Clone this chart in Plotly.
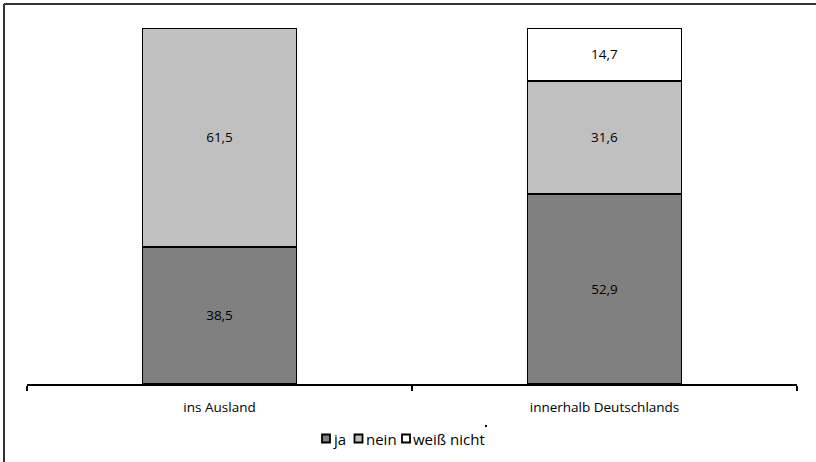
import plotly.graph_objects as go

# Survey result: share of answers per destination (in %)
categories = ["ins Ausland", "innerhalb Deutschlands"]
series_names = ["ja", "nein", "weiß nicht"]
ja_values = [38.5, 52.9]
nein_values = [61.5, 31.6]
weiss_nicht_values = [None, 14.7]

colors = {"ja": "#808080", "nein": "#c0c0c0", "weiß nicht": "#ffffff"}
font_family = "Open Sans, Noto Sans, sans-serif"

fig = go.Figure()
for name, vals in zip(series_names, [ja_values, nein_values, weiss_nicht_values]):
    fig.add_trace(go.Bar(
        x=categories,
        y=vals,
        name=name,
        marker=dict(color=colors[name], line=dict(color="black", width=1.5)),
        text=[("" if v is None else f"{v:.1f}".replace(".", ",")) for v in vals],
        textposition="inside",
        insidetextanchor="middle",
        textfont=dict(color="black", size=13.5, family=font_family),
        showlegend=False,
        cliponaxis=False,
    ))

fig.update_layout(
    barmode="stack",
    barnorm="percent",
    bargap=0.6,
    width=816,
    height=462,
    margin=dict(l=27, r=19, t=28, b=78),
    paper_bgcolor="white",
    plot_bgcolor="white",
    font=dict(family=font_family, size=13, color="black"),
    uniformtext=dict(minsize=13, mode="show"),
    xaxis=dict(
        type="category",
        range=[-0.5, 1.5],
        tickson="boundaries",
        ticks="outside",
        ticklen=5,
        tickwidth=1.5,
        tickcolor="black",
        showline=True,
        linecolor="black",
        linewidth=1.5,
        showgrid=False,
        ticklabelstandoff=10,
        tickfont=dict(size=13.5, family=font_family),
    ),
    yaxis=dict(range=[0, 100], visible=False, showgrid=False),
)

# Legend row with square swatches (pixel positions converted to paper coords)
def px_x(x):
    return (x - 27) / 770


def px_y(y):
    return (384 - y) / 356


legend_y = 438.5
legend_items = [("ja", 322), ("nein", 354.5), ("weiß nicht", 402)]
for name, x0 in legend_items:
    fig.add_shape(
        type="rect", xref="paper", yref="paper",
        x0=px_x(x0), x1=px_x(x0 + 8),
        y0=px_y(legend_y + 4), y1=px_y(legend_y - 4),
        fillcolor=colors[name], line=dict(color="black", width=1.8),
    )
    fig.add_annotation(
        xref="paper", yref="paper",
        x=px_x(x0 + 9), y=px_y(legend_y),
        text=name, showarrow=False, xanchor="left", yanchor="middle",
        font=dict(size=15, family=font_family, color="black"),
    )

# Small dot beside the legend
fig.add_shape(
    type="rect", xref="paper", yref="paper",
    x0=px_x(485), x1=px_x(487),
    y0=px_y(427), y1=px_y(425),
    fillcolor="black", line=dict(width=0),
)

# Frame lines along the top and left edge
fig.add_shape(type="line", xref="paper", yref="paper",
              x0=px_x(4), x1=px_x(816), y0=px_y(4), y1=px_y(4),
              line=dict(color="#333333", width=2))
fig.add_shape(type="line", xref="paper", yref="paper",
              x0=px_x(4), x1=px_x(4), y0=px_y(4), y1=px_y(462),
              line=dict(color="#333333", width=2))

fig.write_html("out.html")
